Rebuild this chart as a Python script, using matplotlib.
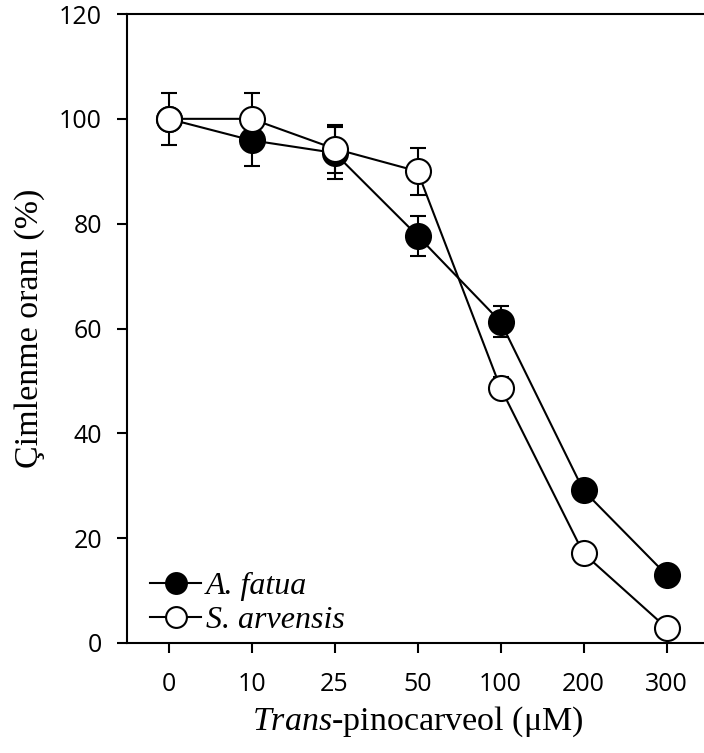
import matplotlib.pyplot as plt
from matplotlib.lines import Line2D
import numpy as np

plt.rcParams['mathtext.fontset'] = 'custom'
plt.rcParams['mathtext.it'] = 'Liberation Serif:italic'
plt.rcParams['mathtext.rm'] = 'Liberation Serif'

# concentrations (categorical x axis)
doses = ['0', '10', '25', '50', '100', '200', '300']

# germination rate (%) and error for each species
fatua = [100, 95.9, 93.5, 77.7, 61.3, 29.1, 13.0]
fatua_err = [0, 4.9, 5.0, 3.8, 3.0, 0, 0]
arvensis = [100, 100, 94.3, 90.0, 48.7, 17.1, 2.9]
arvensis_err = [4.9, 4.9, 4.6, 4.5, 2.0, 0, 0]

fig = plt.figure(figsize=(7.04, 7.53), dpi=100)
ax = fig.add_axes([127 / 704, 110 / 753, 581 / 704, 629 / 753])

x = np.arange(len(doses))

ax.errorbar(x, fatua, yerr=fatua_err, color='black', lw=1.5,
            marker='o', ms=18, mfc='black', mec='black', mew=1.5,
            capsize=6, capthick=1.5, elinewidth=1.5, zorder=3)
ax.errorbar(x, arvensis, yerr=arvensis_err, color='black', lw=1.5,
            marker='o', ms=18, mfc='white', mec='black', mew=1.5,
            capsize=6, capthick=1.5, elinewidth=1.5, zorder=4)

ax.set_xlim(-0.5, 6.5)
ax.set_ylim(0, 120)
ax.set_yticks(np.arange(0, 121, 20))
ax.set_xticks(x)
ax.set_xticklabels(doses)

ax.spines['right'].set_visible(False)
for s in ['left', 'bottom', 'top']:
    ax.spines[s].set_linewidth(1.5)

ax.tick_params(axis='both', direction='out', length=7, width=1.5,
               labelsize=18)
ax.tick_params(axis='y', pad=11)
ax.tick_params(axis='x', pad=14)
for lab in ax.get_xticklabels() + ax.get_yticklabels():
    lab.set_family('Open Sans')

ax.set_xlabel(r'$\mathit{Trans}$-pinocarveol (μM)',
              family='Liberation Serif', fontsize=24.5, labelpad=5)
ax.set_ylabel('Çimlenme oranı (%)', family='Liberation Serif',
              fontsize=24.5, labelpad=10)

# legend without error bars on the handles
handles = [
    Line2D([], [], color='black', lw=1.5, marker='o', ms=15,
           mfc='black', mec='black', mew=1.5),
    Line2D([], [], color='black', lw=1.5, marker='o', ms=15,
           mfc='white', mec='black', mew=1.5),
]
ax.legend(handles, ['A. fatua', 'S. arvensis'], loc='lower left',
          bbox_to_anchor=(0.04, 0.012), frameon=False,
          handlelength=1.6, handletextpad=0.15,
          labelspacing=0.15, borderaxespad=0, borderpad=0,
          prop={'family': 'Liberation Serif', 'style': 'italic',
                'size': 23})

fig.savefig('out.png', dpi=100)
